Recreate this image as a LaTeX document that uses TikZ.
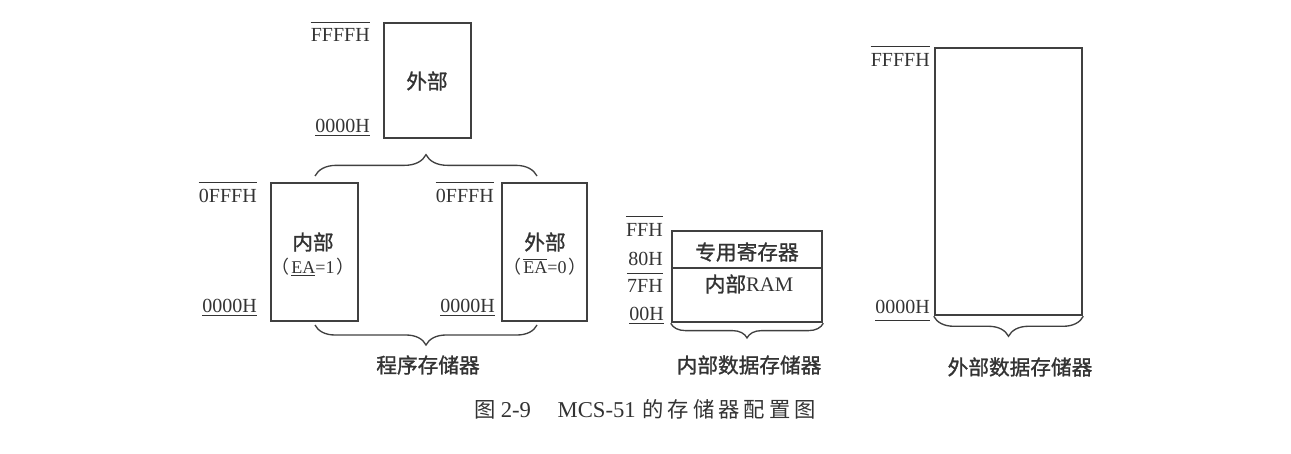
\documentclass[tikz,border=0pt]{standalone}
\usepackage{fontspec}
\setmainfont{Liberation Serif}
\newfontfamily\cjk{Noto Sans CJK SC}
\newfontfamily\cjkm{Noto Sans CJK SC}[FakeBold=1.2]
\usetikzlibrary{decorations.pathreplacing,fit}
\definecolor{ink}{HTML}{333333}
\definecolor{linec}{HTML}{404040}
\newcommand\ovltext[1]{\leavevmode\vbox{\hrule height 0.7pt\kern1.2pt\hbox{#1}}}
\newcommand\capsp{\hspace{3pt}}
\begin{document}
\begin{tikzpicture}[x=0.75pt,y=-0.75pt,
  membox/.style={draw=linec, line width=1.9pt, inner sep=0pt},
  addr/.style={font=\fontsize{15}{15}\selectfont, text=ink, inner sep=0pt, anchor=base east},
  addrline/.style={draw=ink, line width=0.8pt},
  intxt/.style={font=\cjkm\fontsize{15.5}{18}\selectfont, text=ink, inner sep=0pt},
  eatxt/.style={font=\fontsize{13.5}{16}\selectfont, text=ink, inner sep=0pt},
  lab/.style={font=\cjkm\fontsize{15.5}{18}\selectfont, text=ink, inner sep=0pt},
  brc/.style={draw=linec, line width=1pt, decorate},
  divline/.style={draw=linec, line width=1.9pt}]
\useasboundingbox (0,0) rectangle (1291,453);

% boxes
\node[membox, fit={(384,23) (471,138)}] (topext) {};
\node[membox, fit={(271,183) (358,321)}] (intprog) {};
\node[membox, fit={(502,183) (587,321)}] (extprog) {};
\node[membox, fit={(672,231) (822,322)}] (ram) {};
\node[membox, fit={(935,48) (1082,315)}] (extdata) {};
\coordinate (divL) at (672,268);
\coordinate (divR) at (822,268);
\draw[divline] (divL) -- (divR);

% box texts
\node[intxt] (t1) at (427,81) {外部};
\node[intxt] (t2) at (313,242) {内部};
\node[eatxt] (t3) at (313,267) {{\cjk （}\hspace{1.5pt}\underline{EA}=1\hspace{1.5pt}{\cjk ）}};
\node[intxt] (t4) at (545,242) {外部};
\node[eatxt] (t5) at (545,267) {{\cjk （}\hspace{1.5pt}\ovltext{EA}=0\hspace{1.5pt}{\cjk ）}};
\node[intxt] (t6) at (747,252) {专用寄存器};
\node[intxt] (t7) at (749,284) {内部{\fontspec{Liberation Serif}RAM}};

% address labels
\node[addr] (a1) at (370,42) {FFFFH};
\draw[addrline] ([yshift=4.5pt]a1.north west) -- ([yshift=4.5pt]a1.north east);
\node[addr] (a2) at (370,132) {0000H};
\draw[addrline] ([yshift=-2.5pt]a2.south west) -- ([yshift=-2.5pt]a2.south east);
\node[addr] (a3) at (257,202) {0FFFH};
\draw[addrline] ([yshift=4.5pt]a3.north west) -- ([yshift=4.5pt]a3.north east);
\node[addr] (a4) at (257,312) {0000H};
\draw[addrline] ([yshift=-2.5pt]a4.south west) -- ([yshift=-2.5pt]a4.south east);
\node[addr] (a5) at (494,202) {0FFFH};
\draw[addrline] ([yshift=4.5pt]a5.north west) -- ([yshift=4.5pt]a5.north east);
\node[addr] (a6) at (495,312) {0000H};
\draw[addrline] ([yshift=-2.5pt]a6.south west) -- ([yshift=-2.5pt]a6.south east);
\node[addr] (a7) at (663,236) {FFH};
\draw[addrline] ([yshift=4.5pt]a7.north west) -- ([yshift=4.5pt]a7.north east);
\node[addr] (a8) at (663,265) {80H};
\node[addr] (a9) at (663,292) {7FH};
\draw[addrline] ([yshift=4pt]a9.north west) -- ([yshift=4pt]a9.north east);
\node[addr] (a10) at (664,320) {00H};
\draw[addrline] ([yshift=-2.5pt]a10.south west) -- ([yshift=-2.5pt]a10.south east);
\node[addr] (a11) at (930,67) {FFFFH};
\draw[addrline] ([yshift=5.5pt]a11.north west) -- ([yshift=5.5pt]a11.north east);
\node[addr] (a12) at (930,313) {0000H};
\draw[addrline] ([yshift=-5pt]a12.south west) -- ([yshift=-5pt]a12.south east);

% braces
\coordinate (b1l) at (315,176);
\coordinate (b1r) at (537,176);
\draw[brc, decoration={brace, amplitude=16pt}] (b1l) -- (b1r);
\coordinate (b2l) at (315,325);
\coordinate (b2r) at (537,325);
\draw[brc, decoration={brace, amplitude=15pt}] (b2r) -- (b2l);
\draw[brc, decoration={brace, amplitude=11pt}] (ram.south east) -- (ram.south west);
\draw[brc, decoration={brace, amplitude=15pt}] (extdata.south east) -- (extdata.south west);

% bottom labels
\node[lab] (l1) at (428,365) {程序存储器};
\node[lab] (l2) at (749,365) {内部数据存储器};
\node[lab] (l3) at (1020,367) {外部数据存储器};

% caption
\node[font=\fontsize{17}{20}\selectfont, text=ink, inner sep=0pt] (cap) at (645,409)
  {{\cjk\fontsize{16}{20}\selectfont 图}\hspace{4pt}2-9\hspace{20pt}MCS-51\hspace{5pt}{\cjk\fontsize{16}{20}\selectfont 的\capsp 存\capsp 储\capsp 器\capsp 配\capsp 置\capsp 图}};
\end{tikzpicture}
\end{document}
